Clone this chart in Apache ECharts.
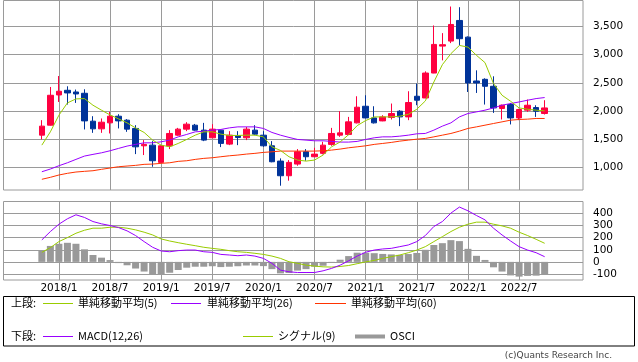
<!DOCTYPE html>
<html><head><meta charset="utf-8">
<script src="https://cdn.jsdelivr.net/npm/echarts@6/dist/echarts.min.js"></script>
<style>html,body{margin:0;padding:0;background:#fff}#c{width:638px;height:362px}</style>
</head><body><div id="c"></div>
<script>
// x categories (months); padding months before/after the data keep the plot margins
const months = ['2017/7','2017/8','2017/9','2017/10','2017/11','2017/12',
 '2018/1','2018/2','2018/3','2018/4','2018/5','2018/6','2018/7','2018/8','2018/9','2018/10','2018/11','2018/12',
 '2019/1','2019/2','2019/3','2019/4','2019/5','2019/6','2019/7','2019/8','2019/9','2019/10','2019/11','2019/12',
 '2020/1','2020/2','2020/3','2020/4','2020/5','2020/6','2020/7','2020/8','2020/9','2020/10','2020/11','2020/12',
 '2021/1','2021/2','2021/3','2021/4','2021/5','2021/6','2021/7','2021/8','2021/9','2021/10','2021/11','2021/12',
 '2022/1','2022/2','2022/3','2022/4','2022/5','2022/6','2022/7','2022/8','2022/9','2022/10','2022/11','2022/12',
 '2023/1','2023/2'];
const firstDataMonth = '2017/11';
const tickLabels = ['2018/1','2018/7','2019/1','2019/7','2020/1','2020/7','2021/1','2021/7','2022/1','2022/7'];
const priceTicks = [1000,1500,2000,2500,3000,3500];
const macdTicks = [-100,0,100,200,300,400];

// [open, close, low, high]
const ohlc = [
 [1571,1731,1495,1837],[1748,2279,1740,2426],[2284,2350,2160,2620],[2367,2320,2114,2438],[2337,2302,2143,2380],
 [2314,1824,1672,2385],[1819,1683,1612,1907],[1683,1801,1612,1867],[1789,1907,1601,1984],[1907,1824,1690,1943],
 [1837,1678,1630,1855],[1690,1364,1235,1748],[1382,1407,1218,1483],[1394,1117,1011,1465],[1088,1382,1085,1390],
 [1382,1601,1324,1660],[1571,1678,1560,1700],[1678,1766,1642,1801],[1748,1660,1650,1770],[1660,1483,1465,1789],
 [1524,1678,1520,1766],[1660,1425,1359,1670],[1412,1571,1394,1642],[1559,1530,1394,1642],[1524,1678,1483,1718],
 [1660,1589,1570,1748],[1571,1382,1364,1642],[1382,1099,1090,1465],[1111,851,674,1159],[851,1088,763,1129],
 [1058,1276,1028,1324],[1276,1188,1117,1324],[1188,1235,1180,1347],[1248,1394,1230,1453],[1407,1601,1382,1700],
 [1571,1612,1541,1996],[1584,1807,1571,1895],[1789,2067,1780,2261],[2084,1877,1870,2279],[1877,1789,1778,2084],
 [1824,1895,1818,1925],[1884,1955,1849,2132],[1996,1895,1731,2014],[1895,2150,1837,2350],[2261,2191,2102,2486],
 [2231,2673,2225,2703],[2673,3181,2670,3517],[3151,3176,2898,3381],[3240,3535,3204,3853],[3606,3282,3163,3841],
 [3310,2497,2337,3323],[2532,2497,2320,2721],[2562,2438,2114,2580],[2438,2054,1966,2615],[2044,2102,1849,2114],
 [2114,1877,1761,2143],[1877,2026,1837,2040],[2014,2102,1984,2203],[2061,1996,1895,2102],[1955,2054,1937,2191]
];
const ma5 = [1394,1630,1925,2143,2214,2220,2102,2014,1930,1860,1789,1700,1619,1483,1394,1364,1424,1495,1571,1630,
 1630,1589,1566,1566,1571,1571,1541,1364,1300,1188,1129,1111,1129,1218,1364,1450,1580,1740,1830,1895,
 1895,1895,1907,1940,2031,2178,2514,2822,3017,3163,3133,2987,2858,2486,2279,2173,2054,2031,2014,2002];
const ma26 = [922,970,1028,1081,1141,1200,1230,1258,1294,1336,1377,1407,1435,1435,1453,1483,1541,1584,1630,1640,
 1660,1672,1700,1718,1718,1718,1690,1619,1571,1531,1495,1483,1471,1471,1460,1448,1448,1460,1495,1524,
 1541,1541,1553,1571,1595,1601,1660,1731,1789,1895,1955,1984,2014,2054,2102,2132,2160,2191,2220,2238];
const ma60 = [788,823,864,894,917,929,940,965,988,1011,1023,1035,1053,1058,1071,1081,1106,1117,1141,1159,
 1170,1188,1205,1218,1235,1248,1265,1276,1288,1288,1288,1288,1288,1294,1306,1324,1347,1364,1382,1407,
 1424,1442,1465,1483,1500,1513,1541,1571,1601,1642,1690,1718,1748,1778,1807,1837,1849,1855,1867,1867];
const macd = [182,251,312,357,390,368,334,315,301,284,257,218,168,121,90,84,93,98,98,84,
 79,62,57,51,57,48,29,-12,-68,-82,-88,-88,-88,-74,-54,-27,9,48,80,98,
 107,112,126,140,168,218,293,334,404,454,423,384,348,279,223,173,126,98,76,43];
const signal = [79,118,168,201,237,262,279,279,287,287,279,265,246,223,190,173,159,146,134,121,
 112,104,93,84,79,71,62,48,29,1,-12,-27,-35,-41,-43,-38,-30,-15,0,12,
 29,43,57,76,98,126,168,209,251,287,312,329,329,312,298,279,246,218,187,154];
const osci = [92,132,150,158,150,104,57,35,15,-10,-28,-55,-80,-103,-102,-90,-67,-48,-40,-40,
 -36,-43,-40,-36,-30,-30,-35,-60,-95,-92,-72,-60,-40,-32,-8,18,48,76,76,72,
 66,62,58,65,74,100,140,155,180,172,108,50,16,-45,-80,-112,-122,-116,-114,-106];

const legendTop = ['単純移動平均(5)','単純移動平均(26)','単純移動平均(60)'];
const legendBottom = ['MACD(12,26)','シグナル(9)','OSCI'];

const C = {up:'#ff0040', down:'#003399', ma5:'#99cc00', ma26:'#9900ff', ma60:'#ff3300', osci:'#999999', grid:'#9a9a9a'};
const start = months.indexOf(firstDataMonth);
const withX = arr => arr.map((v,i) => [months[start+i]].concat(v));
const fmt = v => String(v).replace(/\B(?=(\d{3})+(?!\d))/g, ',');
const AXF = 'DejaVu Sans';
const JPF = '"Noto Sans CJK JP"';

function gridLines(ticks){
  const d = ticks.map(v => ({yAxis: v, label: {show: true, formatter: fmt(v)}}));
  tickLabels.forEach(m => d.push({xAxis: m, label: {show: false}}));
  return {silent: true, symbol: 'none', z: 1, animation: false,
    lineStyle: {color: C.grid, type: 'solid', width: 1},
    label: {position: 'end', distance: 10, color: '#000', fontFamily: AXF, fontSize: 10.5},
    emphasis: {disabled: true}, data: d};
}

const chart = echarts.init(document.getElementById('c'), null, {renderer: 'canvas'});
chart.setOption({
  animation: false,
  backgroundColor: '#fff',
  grid: [
    {left: 3.5, right: 55, top: 0.5, height: 189.5, show: true, borderColor: C.grid, borderWidth: 1, backgroundColor: 'transparent'},
    {left: 3.5, right: 55, top: 201.5, height: 78.5, show: true, borderColor: C.grid, borderWidth: 1, backgroundColor: 'transparent'}
  ],
  xAxis: [
    {type: 'category', gridIndex: 0, data: months, boundaryGap: true, show: false},
    {type: 'category', gridIndex: 1, data: months, boundaryGap: true,
     axisLine: {show: false}, axisTick: {show: false}, splitLine: {show: false},
     axisLabel: {interval: (i, v) => tickLabels.includes(v), margin: 3, color: '#000', fontFamily: AXF, fontSize: 10.5}}
  ],
  yAxis: [
    {type: 'value', gridIndex: 0, min: 598, max: 3960, show: false},
    {type: 'value', gridIndex: 1, min: -150, max: 500, show: false}
  ],
  series: [
    {type: 'candlestick', xAxisIndex: 0, yAxisIndex: 0, z: 2, barWidth: 6,
     data: withX(ohlc), encode: {x: 0, y: [1,2,3,4]},
     itemStyle: {color: C.up, color0: C.down, borderColor: C.up, borderColor0: C.down, borderWidth: 1},
     markLine: gridLines(priceTicks)},
    {type: 'line', name: legendTop[2], xAxisIndex: 0, yAxisIndex: 0, z: 3, data: withX(ma60), showSymbol: false, lineStyle: {color: C.ma60, width: 1}},
    {type: 'line', name: legendTop[1], xAxisIndex: 0, yAxisIndex: 0, z: 3, data: withX(ma26), showSymbol: false, lineStyle: {color: C.ma26, width: 1}},
    {type: 'line', name: legendTop[0], xAxisIndex: 0, yAxisIndex: 0, z: 3, data: withX(ma5), showSymbol: false, lineStyle: {color: C.ma5, width: 1}},
    {type: 'bar', name: legendBottom[2], xAxisIndex: 1, yAxisIndex: 1, z: 2, barWidth: 7, data: withX(osci),
     itemStyle: {color: C.osci}, markLine: gridLines(macdTicks)},
    {type: 'line', name: legendBottom[1], xAxisIndex: 1, yAxisIndex: 1, z: 3, data: withX(signal), showSymbol: false, lineStyle: {color: C.ma5, width: 1}},
    {type: 'line', name: legendBottom[0], xAxisIndex: 1, yAxisIndex: 1, z: 3, data: withX(macd), showSymbol: false, lineStyle: {color: C.ma26, width: 1}}
  ],
  graphic: [
    {type: 'rect', shape: {x: 3.5, y: 296.5, width: 631, height: 49.5}, style: {fill: 'none', stroke: '#000', lineWidth: 1}},
    {type: 'text', x: 11, y: 303, style: {text: '上段:', font: '11px ' + JPF, fill: '#000', verticalAlign: 'middle'}},
    {type: 'line', shape: {x1: 43, y1: 303.5, x2: 73, y2: 303.5}, style: {stroke: C.ma5, lineWidth: 1}},
    {type: 'text', x: 78, y: 303, style: {text: legendTop[0], font: '11px ' + JPF, fill: '#000', verticalAlign: 'middle'}},
    {type: 'line', shape: {x1: 171, y1: 303.5, x2: 201, y2: 303.5}, style: {stroke: C.ma26, lineWidth: 1}},
    {type: 'text', x: 207, y: 303, style: {text: legendTop[1], font: '11px ' + JPF, fill: '#000', verticalAlign: 'middle'}},
    {type: 'line', shape: {x1: 315, y1: 303.5, x2: 346, y2: 303.5}, style: {stroke: C.ma60, lineWidth: 1}},
    {type: 'text', x: 351, y: 303, style: {text: legendTop[2], font: '11px ' + JPF, fill: '#000', verticalAlign: 'middle'}},
    {type: 'text', x: 11, y: 336, style: {text: '下段:', font: '11px ' + JPF, fill: '#000', verticalAlign: 'middle'}},
    {type: 'line', shape: {x1: 43, y1: 336.5, x2: 73, y2: 336.5}, style: {stroke: C.ma26, lineWidth: 1}},
    {type: 'text', x: 78, y: 336, style: {text: legendBottom[0], font: '11px ' + JPF, fill: '#000', verticalAlign: 'middle'}},
    {type: 'line', shape: {x1: 243, y1: 336.5, x2: 273, y2: 336.5}, style: {stroke: C.ma5, lineWidth: 1}},
    {type: 'text', x: 278, y: 336, style: {text: legendBottom[1], font: '11px ' + JPF, fill: '#000', verticalAlign: 'middle'}},
    {type: 'line', shape: {x1: 355, y1: 336.5, x2: 385, y2: 336.5}, style: {stroke: C.osci, lineWidth: 4}},
    {type: 'text', x: 390, y: 336, style: {text: legendBottom[2], font: '11px ' + JPF, fill: '#000', verticalAlign: 'middle'}},
    {type: 'text', x: 612, y: 356, style: {text: '(c)Quants Research Inc.', font: '9px "DejaVu Sans"', fill: '#444', align: 'right', verticalAlign: 'middle'}}
  ]
});
</script></body></html>
